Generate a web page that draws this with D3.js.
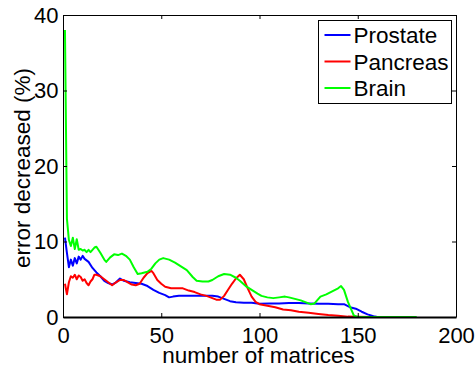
<!DOCTYPE html>
<html>
<head>
<meta charset="utf-8">
<script src="https://cdnjs.cloudflare.com/ajax/libs/d3/7.8.5/d3.min.js"></script>
<style>
  body { margin: 0; background: #fff; }
  text { font-family: "Liberation Sans", Arial, Helvetica, sans-serif; fill: #000; }
</style>
</head>
<body>
<script>
//series names and colours
var seriesNames = ['Prostate', 'Pancreas', 'Brain'];
var seriesColors = ['#0000ff', '#ff0000', '#00ff00'];

//axis ticks
var xTicks = [0, 50, 100, 150, 200];
var yTicks = [0, 10, 20, 30, 40];

//Prostate (blue)
var prostateX = [1,2,3,4,5,6,7,8,9,10,11,13,15,17,19,21,23,25,27,29,31,34,37,40,43,46,49,52,54,56,59,63,67,72,76,79,82,85,88,92,96,100,105,110,115,120,125,130,135,140,143,146,149,152,155,158,160];
var prostateY = [10.5,8.5,6.6,7.6,6.8,7.8,7.1,8.0,7.6,8.1,7.7,7.3,6.5,5.9,5.4,4.8,4.5,4.3,4.6,5.1,4.8,4.6,4.5,4.4,4.1,3.6,3.2,2.9,2.6,2.7,2.8,2.8,2.8,2.8,2.8,2.7,2.4,2.1,1.95,1.9,1.9,1.75,1.8,1.8,1.85,1.85,1.8,1.75,1.75,1.7,1.7,1.3,1.1,0.7,0.35,0.1,0];

//Pancreas (red)
var pancreasX = [1,2,3,4,5,6,7,8,9,10,11,12,13,14,15,16,17,19,21,23,25,27,29,31,33,35,37,39,41,43,45,46,48,50,52,55,58,61,64,67,70,73,76,78,80,82,84,86,88,90,92,94,96,98,100,104,108,112,116,120,125,130,135,140,145,150,157];
var pancreasY = [4.4,3.0,4.6,5.4,5.2,5.6,5.0,5.5,5.3,4.8,5.0,4.5,4.2,4.7,5.0,5.6,5.6,5.4,5.0,4.6,4.2,4.6,4.9,4.9,4.6,4.3,4.2,4.4,5.2,5.8,6.1,5.8,4.9,4.4,4.0,3.8,3.8,3.8,3.5,3.3,3.0,2.8,2.5,2.3,2.3,2.8,3.6,4.4,5.1,5.6,5.0,3.8,2.7,2.0,1.7,1.5,1.3,1.0,0.9,0.7,0.55,0.4,0.25,0.15,0.05,0.02,0];

//Brain (green)
var brainX = [1,2,3,4,5,6,7,8,9,10,11,12,13,14,16,17,19,21,22,24,26,28,30,32,34,36,38,40,43,45,47,49,51,54,57,60,63,66,68,71,74,76,79,82,85,88,90,93,96,99,101,104,107,110,113,115,118,121,124,126,128,131,134,137,140,141.5,143,145,147,148,150,180];
var brainY = [38,13,10.2,9.4,10.5,9.0,10.3,8.9,9.0,8.8,8.9,8.6,8.9,8.6,9.2,9.3,8.5,7.6,7.3,7.9,8.3,8.2,8.4,8.1,7.6,6.6,5.7,5.8,6.0,6.4,7.1,7.6,7.8,7.6,7.2,6.7,6.2,5.3,4.8,4.7,4.7,4.9,5.4,5.7,5.6,5.2,4.8,4.1,3.6,3.1,2.8,2.6,2.5,2.6,2.7,2.6,2.4,2.2,1.9,1.7,1.8,2.7,3.0,3.4,3.8,4.1,3.6,2.0,0.8,0.2,0,0];

window.onload = drawChart;

function drawChart(){
    var width = 475,
        height = 368;

    //plot box in pixels
    var left = 63, right = 456, top = 15, bottom = 317;

    var svg = d3.select('body')
        .append('svg')
        .attr('width', width)
        .attr('height', height);

    var x = d3.scaleLinear().domain([0, 200]).range([left, right]);
    var y = d3.scaleLinear().domain([0, 40]).range([bottom, top]);

    //build point lists for each series
    var series = [
        d3.zip(prostateX, prostateY),
        d3.zip(pancreasX, pancreasY),
        d3.zip(brainX, brainY)
    ];

    var line = d3.line()
        .x(function(d){ return x(d[0]); })
        .y(function(d){ return y(d[1]); });

    //data lines, drawn in legend order
    svg.selectAll('.series')
        .data(series)
        .enter()
        .append('path')
        .attr('class', 'series')
        .attr('fill', 'none')
        .attr('stroke', function(d, i){ return seriesColors[i]; })
        .attr('stroke-width', 2)
        .attr('stroke-linejoin', 'round')
        .attr('d', line);

    //axes, matlab style: ticks inward on all four sides
    var tickLen = 4;
    svg.append('g')
        .attr('transform', 'translate(0,' + bottom + ')')
        .call(d3.axisBottom(x).tickValues(xTicks).tickSizeInner(-tickLen).tickSizeOuter(0).tickPadding(10))
        .call(styleAxis);
    svg.append('g')
        .attr('transform', 'translate(0,' + top + ')')
        .call(d3.axisTop(x).tickValues(xTicks).tickSizeInner(-tickLen).tickSizeOuter(0).tickFormat(''))
        .call(styleAxis);
    svg.append('g')
        .attr('transform', 'translate(' + left + ',0)')
        .call(d3.axisLeft(y).tickValues(yTicks).tickSizeInner(-tickLen).tickSizeOuter(0).tickPadding(4.5))
        .call(styleAxis);
    svg.append('g')
        .attr('transform', 'translate(' + right + ',0)')
        .call(d3.axisRight(y).tickValues(yTicks).tickSizeInner(-tickLen).tickSizeOuter(0).tickFormat(''))
        .call(styleAxis);

    //thicker bottom edge as in the figure
    svg.select('g').select('.domain').attr('stroke-width', 2);

    //axis titles
    svg.append('text')
        .attr('x', (left + right) / 2 - 1)
        .attr('y', 363)
        .attr('text-anchor', 'middle')
        .style('font-size', '22.5px')
        .text('number of matrices');

    svg.append('text')
        .attr('transform', 'translate(30,' + ((top + bottom) / 2 + 2) + ') rotate(-90)')
        .attr('text-anchor', 'middle')
        .style('font-size', '22.5px')
        .text('error decreased (%)');

    //legend
    var legend = svg.append('g').attr('transform', 'translate(318.5,20.5)');
    legend.append('rect')
        .attr('width', 133)
        .attr('height', 83)
        .attr('fill', '#fff')
        .attr('stroke', '#000')
        .attr('stroke-width', 1);

    var rows = legend.selectAll('.row')
        .data(seriesNames)
        .enter()
        .append('g')
        .attr('class', 'row')
        .attr('transform', function(d, i){ return 'translate(0,' + (14.5 + i * 26.5) + ')'; });

    rows.append('line')
        .attr('x1', 6).attr('x2', 32)
        .attr('stroke', function(d, i){ return seriesColors[i]; })
        .attr('stroke-width', 2);

    rows.append('text')
        .attr('x', 35)
        .attr('dy', '0.36em')
        .style('font-size', '22.5px')
        .text(function(d){ return d; });
}

function styleAxis(g){
    g.select('.domain').attr('stroke', '#000').attr('stroke-width', 1);
    g.selectAll('.tick line').attr('stroke', '#000');
    g.selectAll('.tick text')
        .attr('fill', '#000')
        .style('font-size', '22px')
        .style('font-family', '"Liberation Sans", Arial, sans-serif');
}
</script>
</body>
</html>
